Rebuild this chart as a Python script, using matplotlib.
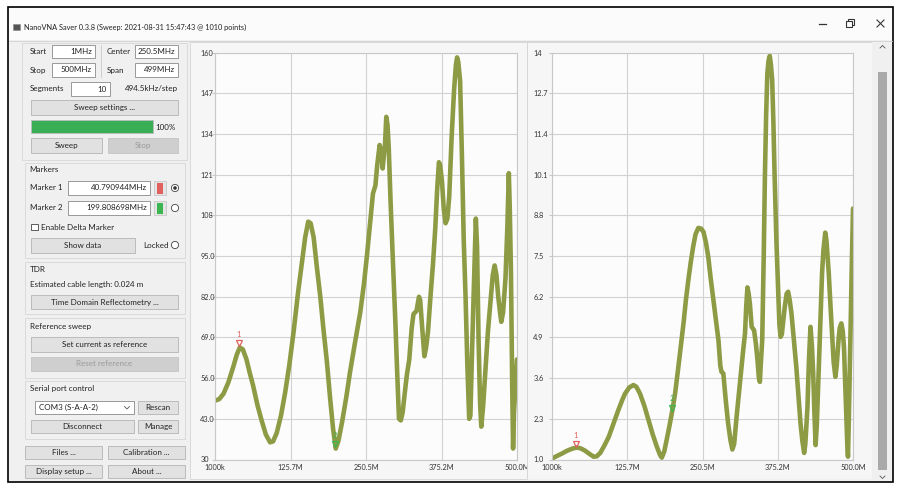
import matplotlib
matplotlib.use('Agg')
import matplotlib.pyplot as plt
from matplotlib.patches import Rectangle, Circle
from matplotlib.transforms import offset_copy

plt.rcParams['font.family'] = ['Lato', 'DejaVu Sans']

W, H = 897, 487

# frequency axis (MHz) and tick labels shared by both charts
x_ticks = [1, 125.75, 250.5, 375.25, 500]
x_labels = ['1000k', '125.7M', '250.5M', '375.2M', '500.0M']

# |Z| chart (left)
z_ticks = [30, 43, 56, 69, 82, 95, 108, 121, 134, 147, 160]
z_labels = ['30', '43.0', '56.0', '69.0', '82.0', '95.0', '108', '121', '134', '147', '160']
z_freq = [1, 8, 15, 23, 31, 37, 42, 47, 53, 58, 64, 71, 78, 85, 92, 97, 103, 110, 117, 124,
          131, 138, 144, 150, 155, 159, 164, 169, 175, 180, 186, 191, 196, 200.5, 205, 211,
          218, 224, 232, 241, 247, 252, 257, 262, 266, 269, 273, 276, 278, 280, 282, 284,
          286, 288, 291, 294, 299, 302, 305, 308, 311, 315, 318, 322, 326, 329, 334, 338,
          340, 343, 347, 350, 353, 357, 361, 365, 368, 371, 373, 376, 379, 382, 385, 388,
          392, 396, 399, 401, 403, 406, 409, 412, 415, 418, 421, 423, 425.5, 429, 432, 434,
          436.5, 439, 441, 444, 448, 452, 456, 460, 463, 466, 469, 472, 474, 477, 481, 484,
          486.5, 488, 490, 492, 493.5, 495, 497, 500]
z_vals = [48.8, 49.3, 51, 54.6, 59.5, 63.5, 65.8, 65.2, 62, 58, 53.6, 47.5, 42.5, 38, 35.5,
          35.8, 38.5, 44, 51.5, 60.5, 71, 83, 92, 101, 106, 105.5, 101, 92, 82, 72, 61, 50,
          40, 33.5, 36, 42, 50, 57.8, 67, 77, 86, 95, 105, 115, 117.5, 124, 130.5, 128, 123,
          127, 131, 139.5, 137, 130, 113, 98, 74, 58, 43, 42.5, 45, 52, 57, 62, 72, 76.5,
          77.5, 82, 81, 73, 63, 66, 71, 82, 92, 104, 116, 125, 124, 119, 110, 105.5, 107,
          114, 133, 148, 156, 158.5, 157, 151, 127, 100, 82, 60, 43, 44, 63, 87, 107, 98,
          68, 48, 40.5, 47, 59, 71, 80, 89, 92, 89, 82, 77, 74, 77, 88, 104, 121.5, 111, 90,
          55, 33.5, 45, 52, 62]

# VSWR chart (right)
swr_ticks = [1.0, 2.3, 3.6, 4.9, 6.2, 7.5, 8.8, 10.1, 11.4, 12.7, 14]
swr_labels = ['1.0', '2.3', '3.6', '4.9', '6.2', '7.5', '8.8', '10.1', '11.4', '12.7', '14']
swr_freq = [1, 10, 17.5, 25, 31, 37, 42, 48, 56, 63, 70, 75, 81, 88, 95, 103, 111, 117, 122,
            129, 136, 141, 147, 154, 161, 168, 175, 180, 183, 187, 191, 196, 200.6, 205,
            210.5, 215, 219, 223, 227, 231, 235, 239, 243.6, 248, 252, 256, 260, 264, 268.6,
            273, 277, 280, 282, 285, 289, 293, 297, 300, 303, 307, 311, 315, 318, 321, 323,
            325, 327, 329, 332, 336, 339, 341.7, 344, 345.6, 347, 349.5, 352, 354, 356, 358,
            360, 362, 364, 366, 368, 370, 373, 376, 378, 380, 382, 384, 387, 390, 392.5, 395,
            398, 402, 406, 410, 413, 416, 419, 421, 424.5, 427, 429.5, 432, 434, 436, 438,
            440, 443, 446, 448.7, 451, 454, 456, 459.8, 463, 466, 468, 470.8, 473, 476, 478,
            480.7, 483, 485, 487, 489, 490.5, 491.7, 493, 495.6, 498, 500]
swr_vals = [1.03, 1.12, 1.19, 1.27, 1.32, 1.36, 1.38, 1.36, 1.28, 1.18, 1.09, 1.1, 1.21, 1.45,
            1.72, 2.15, 2.58, 2.88, 3.1, 3.3, 3.38, 3.32, 3.1, 2.72, 2.26, 1.8, 1.4, 1.15,
            1.06, 1.25, 1.62, 2.1, 2.58, 3.1, 3.96, 4.7, 5.35, 6.1, 6.73, 7.3, 7.8, 8.2, 8.4,
            8.38, 8.28, 7.95, 7.48, 6.8, 6.1, 5.45, 4.8, 4.0, 3.8, 3.75, 2.9, 2.15, 1.6, 1.32,
            1.5, 2.36, 3.15, 3.96, 4.5, 5.03, 5.9, 6.5, 6.3, 5.99, 5.24, 5.13, 4.7, 4.17, 3.6,
            3.48, 4.0, 4.81, 7.5, 10.1, 12.0, 13.34, 13.75, 13.9, 13.6, 13.13, 11.8, 10.1, 8.0,
            6.4, 5.3, 4.92, 5.0, 5.35, 5.9, 6.3, 6.36, 6.1, 5.67, 4.8, 3.96, 2.9, 2.15, 1.6,
            1.21, 1.5, 2.68, 4.2, 5.24, 4.6, 3.75, 2.5, 1.46, 2.1, 3.75, 5.4, 6.95, 7.7, 8.25,
            8.0, 6.95, 5.8, 4.81, 4.1, 3.64, 4.0, 4.81, 5.2, 5.35, 5.1, 4.6, 3.5, 2.36, 1.5,
            1.09, 2.2, 4.81, 7.2, 9.02]

# markers
marker_names = ['1', '2']
marker_freq = [40.790944, 199.808698]
marker_z = [66.0, 33.8]
marker_swr = [1.38, 2.55]
marker_colors = ['#e06060', '#3cb450']

TRACE = '#8e9b45'
GUI_TEXT = '#222222'

fig = plt.figure(figsize=(W / 100, H / 100), dpi=100)
fig.patch.set_facecolor('white')


def px_axes(x0, y0, x1, y1, zorder):
    return fig.add_axes([x0 / W, 1 - y1 / H, (x1 - x0) / W, (y1 - y0) / H], zorder=zorder)


bg = px_axes(0, 0, W, H, 0)
bg.set_xlim(0, W)
bg.set_ylim(H, 0)
bg.axis('off')


def rect(x0, y0, x1, y1, fc='none', ec='none', lw=0.6, ax=bg):
    ax.add_patch(Rectangle((x0, y0), x1 - x0, y1 - y0, fc=fc, ec=ec, lw=lw))


def txt(x, y, s, ha='left', color=GUI_TEXT, size=5.8):
    bg.text(x, y, s, ha=ha, va='center', fontsize=size, color=color)


def button(x0, y0, x1, y1, s, enabled=True):
    if enabled:
        rect(x0, y0, x1, y1, fc='#e1e1e1', ec='#b4b4b4')
        txt((x0 + x1) / 2, (y0 + y1) / 2, s, ha='center')
    else:
        rect(x0, y0, x1, y1, fc='#cfcfcf', ec='#c4c4c4')
        txt((x0 + x1) / 2, (y0 + y1) / 2, s, ha='center', color='#9a9a9a')


def field(x0, y0, x1, y1, s, ha='right'):
    rect(x0, y0, x1, y1, fc='white', ec='#8a8a8a')
    tx = x1 - 3 if ha == 'right' else x0 + 4
    txt(tx, (y0 + y1) / 2, s, ha=ha)


def radio(x, y, checked=False):
    bg.add_patch(Circle((x, y), 3.6, fc='white', ec='#444444', lw=0.6))
    if checked:
        bg.add_patch(Circle((x, y), 1.8, fc='#333333', ec='none'))


# window frame and title bar
rect(8, 7, 893, 482, fc='#f0f0f0', ec='black', lw=1.2)
rect(9, 8, 892, 40, fc='#fbfbfb')
bg.plot([9, 892], [40.5, 40.5], color='#d0d0d0', lw=0.6)
rect(13, 24, 20, 30, fc='#555555', ec='#888888', lw=0.4)
txt(24, 27, 'NanoVNA Saver 0.3.8 (Sweep: 2021-08-31 15:47:43 @ 1010 points)', size=5.3)
bg.plot([819, 826], [24, 24], color='#333333', lw=0.9)
rect(847.5, 18.5, 853.5, 24.5, fc='none', ec='#333333', lw=0.8)
rect(845.5, 20.5, 851.5, 26.5, fc='#fbfbfb', ec='#333333', lw=0.8)
bg.plot([877, 884], [20, 27], color='#333333', lw=0.8)
bg.plot([877, 884], [27, 20], color='#333333', lw=0.8)

# sweep group
rect(22, 43, 187, 160, ec='#d6d6d6')
txt(30, 52, 'Start')
field(52, 45, 95, 58, '1MHz')
bg.plot([101, 101], [45, 77], color='#c8c8c8', lw=0.6)
txt(107, 52, 'Center')
field(135, 45, 178, 58, '250.5MHz')
txt(30, 70, 'Stop')
field(52, 63, 95, 77, '500MHz')
txt(107, 70, 'Span')
field(135, 63, 178, 77, '499MHz')
txt(30, 89, 'Segments')
field(71, 82, 110, 96, '10')
txt(178, 89, '494.5kHz/step', ha='right')
button(31, 100, 178, 115, 'Sweep settings ...')
rect(31, 120, 153, 133, fc='#3aae55', ec='#bcbcbc')
txt(155, 127, '100%')
button(31, 138, 102, 153, 'Sweep')
button(108, 138, 178, 153, 'Stop', enabled=False)

# markers group
rect(25, 163, 185, 258, ec='#d6d6d6')
txt(29, 170, 'Markers')
for i, (name, freq, col) in enumerate(zip(marker_names, marker_freq, marker_colors)):
    yy = 188 + 20 * i
    txt(30, yy, 'Marker ' + name)
    field(68, yy - 7, 150, yy + 7, f'{freq:.6f}MHz')
    rect(154, yy - 7, 166, yy + 7, fc='#e4e4e4', ec='#c8c8c8')
    rect(157, yy - 5.5, 163, yy + 5.5, fc=col)
    radio(175, yy, checked=(i == 0))
rect(31, 223.5, 37.5, 230, fc='white', ec='#444444')
txt(41, 227, 'Enable Delta Marker')
button(31, 238, 135, 253, 'Show data')
txt(143, 245, 'Locked')
radio(175, 245)

# TDR group
rect(25, 262, 185, 314, ec='#d6d6d6')
txt(30, 269, 'TDR')
txt(30, 285, 'Estimated cable length: 0.024 m')
button(31, 295, 178, 309, 'Time Domain Reflectometry ...')

# reference sweep group
rect(25, 318, 185, 378, ec='#d6d6d6')
txt(30, 326, 'Reference sweep')
button(31, 337, 178, 352, 'Set current as reference')
button(31, 357, 178, 371, 'Reset reference', enabled=False)

# serial port group
rect(25, 381, 185, 439, ec='#d6d6d6')
txt(30, 388, 'Serial port control')
field(35, 401, 134, 414, 'COM3 (S-A-A-2)', ha='left')
bg.plot([124.5, 127, 129.5], [406.5, 409, 406.5], color='#555555', lw=0.6)
button(138, 401, 178, 414, 'Rescan')
button(31, 420, 134, 433, 'Disconnect')
button(138, 420, 178, 433, 'Manage')

# bottom buttons
button(25, 446, 102, 459, 'Files ...')
button(108, 446, 185, 459, 'Calibration ...')
button(25, 465, 102, 478, 'Display setup ...')
button(108, 465, 185, 478, 'About ...')

# chart widget backgrounds and scrollbar
rect(190, 42, 527, 479, fc='#f6f6f6', ec='#d4d4d4')
rect(873, 42, 891, 481, fc='#f0f0f0')
rect(878, 72, 887, 470, fc='#a9a9a9')
bg.plot([880, 882.5, 885], [48, 45.5, 48], color='#555555', lw=0.6)
bg.plot([880, 882.5, 885], [476, 478.5, 476], color='#555555', lw=0.6)

# right widget panel covers the clipped x label of the left chart
rpanel = px_axes(527, 42, 872, 479, 2)
rpanel.axis('off')
rpanel.add_patch(Rectangle((0, 0), 1, 1, transform=rpanel.transAxes, fc='#f6f6f6',
                           ec='#d4d4d4', lw=0.6))


def chart(ax, freq, vals, ticks, labels, mvals, pad):
    ax.set_facecolor('#fcfcfc')
    ax.plot(freq, vals, color=TRACE, lw=3.3, solid_joinstyle='round', solid_capstyle='round')
    ax.set_xlim(x_ticks[0], x_ticks[-1])
    ax.set_ylim(ticks[0], ticks[-1])
    ax.set_xticks(x_ticks)
    ax.set_xticklabels(x_labels)
    ax.set_yticks(ticks)
    ax.set_yticklabels(labels, ha='left')
    ax.grid(True, color='#d2d2d2', lw=0.8)
    for s in ax.spines.values():
        s.set_color('#c8c8c8')
        s.set_linewidth(0.8)
    ax.tick_params(axis='y', length=2, color='#c8c8c8', pad=pad, labelsize=5.3,
                   labelcolor='#333333')
    ax.tick_params(axis='x', length=0, pad=3, labelsize=5.3, labelcolor='#333333')
    tri = offset_copy(ax.transData, fig=fig, x=0, y=2.5, units='points')
    num = offset_copy(ax.transData, fig=fig, x=0, y=9, units='points')
    for name, f, v, col in zip(marker_names, marker_freq, mvals, marker_colors):
        ax.plot(f, v, marker='v', ms=4.5, mfc='none', mec=col, mew=0.9, transform=tri)
        ax.text(f, v, name, color=col, fontsize=5.5, ha='center', va='center', transform=num)


ax_z = px_axes(215, 52.7, 517, 459.5, 1)
chart(ax_z, z_freq, z_vals, z_ticks, z_labels, marker_z, 8.6)

ax_s = px_axes(552, 52.7, 853, 459.5, 3)
chart(ax_s, swr_freq, swr_vals, swr_ticks, swr_labels, marker_swr, 11.5)

fig.savefig('out.png', dpi=100)
